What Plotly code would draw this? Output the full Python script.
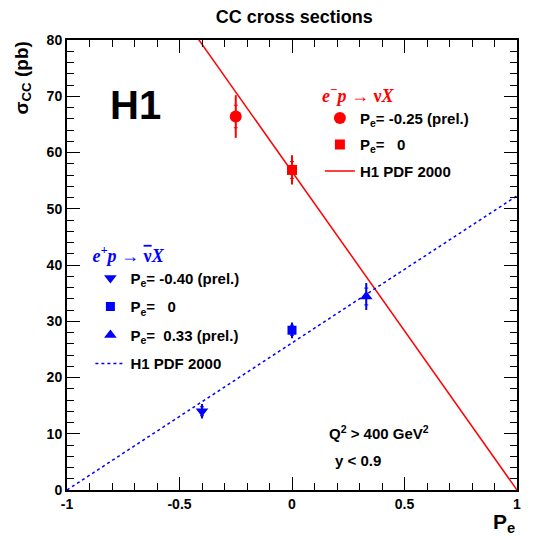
import plotly.graph_objects as go

# ---- data ----
pdf_x = [-1.0, 1.0]
em_pdf = [113.2, 0.0]      # H1 PDF 2000, e-p
ep_pdf = [0.0, 52.3]       # H1 PDF 2000, e+p

em_circ_x = [-0.25]; em_circ_y = [66.4]; em_circ_tot = [3.8]; em_circ_stat = [2.0]
em_sq_x = [0.0];     em_sq_y = [56.9];   em_sq_tot = [2.6];   em_sq_stat = [1.5]
ep_dn_x = [-0.40];   ep_dn_y = [14.0];   ep_dn_tot = [1.3];   ep_dn_stat = [0.8]
ep_sq_x = [0.0];     ep_sq_y = [28.4];   ep_sq_tot = [1.4];   ep_sq_stat = [0.9]
ep_up_x = [0.33];    ep_up_y = [34.4];   ep_up_tot = [2.4];   ep_up_stat = [1.5]

xticks = [-1, -0.5, 0, 0.5, 1]
xticklabels = ["-1", "-0.5", "0", "0.5", "1"]

RED = "#ff0000"
BLUE = "#0000ff"
FONT = "Liberation Sans"

fig = go.Figure()

def point(x, y, tot, stat, color, symbol, size, name, legend, group):
    fig.add_trace(go.Scatter(
        x=x, y=y, mode="markers", name=name, legend=legend, legendgroup=group,
        marker=dict(color=color, symbol=symbol, size=size),
        error_y=dict(type="data", array=tot, color=color, thickness=2, width=0),
    ))
    fig.add_trace(go.Scatter(
        x=x, y=y, mode="markers", showlegend=False, hoverinfo="skip",
        marker=dict(color=color, size=1, opacity=0),
        error_y=dict(type="data", array=stat, color=color, thickness=1, width=2),
    ))

# e- p
point(em_circ_x, em_circ_y, em_circ_tot, em_circ_stat, RED, "circle", 12,
      "P<sub>e</sub>= -0.25 (prel.)", "legend", "a1")
point(em_sq_x, em_sq_y, em_sq_tot, em_sq_stat, RED, "square", 10,
      "P<sub>e</sub>=   0", "legend", "a2")
fig.add_trace(go.Scatter(x=pdf_x, y=em_pdf, mode="lines", name="H1 PDF 2000",
                         legend="legend", legendgroup="a3",
                         line=dict(color=RED, width=1.5)))

# e+ p
point(ep_dn_x, ep_dn_y, ep_dn_tot, ep_dn_stat, BLUE, "triangle-down", 11,
      "P<sub>e</sub>= -0.40 (prel.)", "legend2", "b1")
point(ep_sq_x, ep_sq_y, ep_sq_tot, ep_sq_stat, BLUE, "square", 9,
      "P<sub>e</sub>=   0", "legend2", "b2")
point(ep_up_x, ep_up_y, ep_up_tot, ep_up_stat, BLUE, "triangle-up", 11,
      "P<sub>e</sub>=  0.33 (prel.)", "legend2", "b3")
fig.add_trace(go.Scatter(x=pdf_x, y=ep_pdf, mode="lines", name="H1 PDF 2000",
                         legend="legend2", legendgroup="b4",
                         line=dict(color=BLUE, width=1.5, dash="3px,3px")))

axis_common = dict(
    showgrid=False, zeroline=False, showline=True, linecolor="black", linewidth=2,
    mirror="ticks", ticks="inside", ticklen=13, tickwidth=1, tickcolor="black",
    tickfont=dict(family=FONT, size=14, color="black", weight="bold"),
)
fig.update_xaxes(range=[-1, 1], tickvals=xticks, ticktext=xticklabels,
                 minor=dict(dtick=0.1, ticks="inside", ticklen=7, tickcolor="black"),
                 **axis_common)
fig.update_yaxes(range=[0, 80], dtick=10,
                 minor=dict(dtick=2, ticks="inside", ticklen=7, tickcolor="black"),
                 **axis_common)

leg_common = dict(
    bgcolor="rgba(0,0,0,0)", borderwidth=0,
    font=dict(family=FONT, size=15, color="black", weight="bold"),
    xanchor="left", yanchor="top", traceorder="grouped",
)
fig.update_layout(
    width=535, height=536,
    margin=dict(l=67, r=18, t=40, b=46),
    plot_bgcolor="white", paper_bgcolor="white",
    showlegend=True,
    title=dict(text="CC cross sections", x=0.55, xanchor="center", y=0.968, yanchor="middle",
               font=dict(family=FONT, size=18, color="black", weight="bold")),
    legend=dict(x=0.562, y=0.915, tracegroupgap=4,
                title=dict(text="e<sup>−</sup>p <span style='font-style:normal'>→ ν</span>X",
                           font=dict(family="Liberation Serif", size=18, color=RED,
                                     weight="bold", style="italic")),
                **leg_common),
    legend2=dict(x=0.052, y=0.559, tracegroupgap=6,
                 title=dict(text="e<sup>+</sup>p <span style='font-style:normal'>→ "
                                 "<span style='text-decoration:overline'>ν</span></span>X",
                            font=dict(family="Liberation Serif", size=18, color=BLUE,
                                      weight="bold", style="italic")),
                 **leg_common),
)

fig.add_annotation(text="H1", xref="paper", yref="paper", x=0.09, y=0.855,
                   xanchor="left", yanchor="middle", showarrow=False,
                   font=dict(family=FONT, size=40, color="black", weight="bold"))
fig.add_annotation(text="Q<sup>2</sup> > 400 GeV<sup>2</sup>", xref="paper", yref="paper",
                   x=0.578, y=0.127, xanchor="left", yanchor="middle", showarrow=False,
                   font=dict(family=FONT, size=15, color="black", weight="bold"))
fig.add_annotation(text="y < 0.9", xref="paper", yref="paper",
                   x=0.59, y=0.066, xanchor="left", yanchor="middle", showarrow=False,
                   font=dict(family=FONT, size=15, color="black", weight="bold"))
fig.add_annotation(text="σ<sub>CC</sub> (pb)", xref="paper", yref="paper",
                   x=-0.1, y=1.0, xanchor="center", yanchor="top", textangle=-90,
                   showarrow=False,
                   font=dict(family=FONT, size=19, color="black", weight="bold"))
fig.add_annotation(text="P<sub>e</sub>", xref="paper", yref="paper",
                   x=1.0, y=-0.04, xanchor="right", yanchor="top", showarrow=False,
                   font=dict(family=FONT, size=21, color="black", weight="bold"))

fig.write_html("out.html")
